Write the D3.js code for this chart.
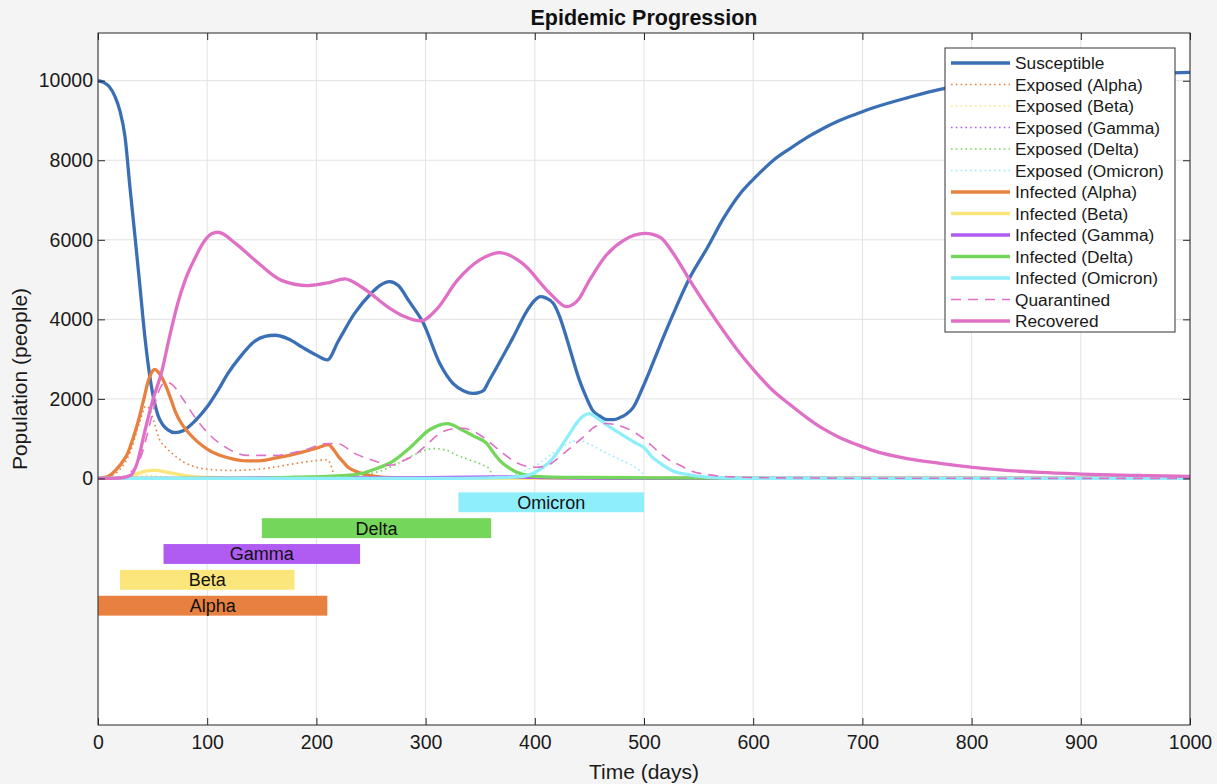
<!DOCTYPE html>
<html>
<head>
<meta charset="utf-8">
<script src="https://cdn.jsdelivr.net/npm/d3@7"></script>
<style>
  html, body { margin: 0; padding: 0; background: #f4f4f4; }
  svg { display: block; font-family: "Liberation Sans", Arial, Helvetica, sans-serif; }
</style>
</head>
<body>
<div id="chart"></div>
<script>
// ---- data (day, people) ----
var susceptible = [[0,10000],[5,9960],[10,9860],[15.6,9600],[20,9250],[24.7,8600],[29.3,7310],[34,6050],[38.5,4800],[43,3540],[47.6,2540],[52,1880],[55,1580],[58.6,1380],[64,1220],[70.5,1150],[78,1200],[89,1450],[100,1800],[110,2220],[119,2640],[130,3050],[144,3460],[153,3570],[162,3600],[175,3500],[187,3300],[200,3100],[210,2980],[220,3450],[235,4150],[250,4650],[258,4850],[267,4950],[275,4850],[285,4450],[298,3900],[313,2890],[325,2390],[335,2200],[343,2140],[349,2160],[353,2210],[358,2450],[365,2790],[380,3540],[393,4220],[400,4480],[405,4570],[410,4540],[417,4400],[423,4050],[429,3540],[441,2460],[447,2050],[453,1710],[460,1560],[466,1480],[472,1480],[478,1530],[484,1620],[490,1780],[499,2300],[508,2890],[517,3500],[527,4150],[542,5050],[558,5800],[573,6550],[588,7160],[603,7600],[618,7990],[634,8300],[649,8570],[664,8800],[679,9000],[695,9170],[710,9320],[741,9570],[771,9780],[800,9900],[850,10030],[900,10110],[950,10170],[1000,10210]];

var exposedAlpha = [[0,0],[10,50],[20,220],[30,700],[38,1400],[44,1820],[48,1700],[52,1350],[56,1000],[62,780],[68,630],[78,420],[90,280],[105,220],[120,200],[150,240],[180,370],[200,450],[210,470],[213,350],[216,100],[220,0],[1000,0]];
var exposedBeta = [[0,0],[20,0],[28,30],[38,70],[45,80],[52,60],[65,30],[80,10],[100,0],[1000,0]];
var exposedGamma = [[0,0],[60,0],[150,5],[250,5],[340,10],[400,5],[480,0],[1000,0]];
var exposedDelta = [[0,0],[150,0],[200,20],[240,80],[260,200],[275,380],[290,600],[307,750],[318,720],[329,580],[342,450],[353,330],[358,250],[361,100],[364,20],[380,0],[1000,0]];
var exposedOmicron = [[0,0],[330,0],[370,40],[390,180],[405,400],[420,700],[432,900],[440,960],[450,860],[466,630],[480,450],[493,260],[498,150],[501,0],[1000,0]];

var infectedAlpha = [[0,0],[5,20],[10,60],[16,200],[22,400],[27.5,650],[32,1000],[37,1450],[42,2000],[46,2450],[50,2700],[52,2740],[55,2680],[61,2400],[66,2050],[70.5,1700],[76,1400],[82,1180],[90,950],[101,720],[119,520],[137,440],[150,450],[162,510],[175,580],[187,660],[200,760],[211,850],[215,750],[220,560],[225,400],[229,280],[236,180],[242,120],[250,70],[260,30],[280,10],[300,0],[1000,0]];
var infectedBeta = [[0,0],[20,0],[25,20],[32,80],[40,160],[48,200],[54,200],[60,170],[70,120],[80,70],[90,40],[100,25],[120,10],[180,0],[1000,0]];
var infectedGamma = [[0,0],[60,0],[100,5],[150,15],[200,20],[250,15],[300,20],[340,35],[370,40],[400,25],[440,8],[480,0],[1000,0]];
var infectedDelta = [[0,0],[150,0],[180,30],[210,50],[230,80],[242,130],[255,250],[267,380],[286,780],[304,1230],[320,1380],[334,1210],[345,1050],[356,880],[362,650],[368,450],[376,270],[384,150],[395,70],[410,40],[450,25],[500,15],[600,5],[700,0],[1000,0]];
var infectedOmicron = [[0,0],[330,0],[370,20],[389,50],[400,150],[407,270],[414,430],[420,630],[426,880],[432,1130],[438,1380],[444,1560],[450,1630],[458,1500],[469,1290],[481,1080],[493,880],[500,780],[507,550],[515,380],[527,180],[542,90],[560,30],[600,5],[700,0],[1000,0]];

var quarantined = [[0,0],[20,30],[30,150],[40,600],[45,1100],[50,1650],[55,2150],[62,2420],[68,2360],[77,2030],[89,1530],[101,1130],[119,750],[137,580],[162,580],[187,700],[211,880],[220,870],[235,630],[250,470],[260,380],[267,330],[280,450],[292,630],[303,900],[313,1130],[325,1250],[334,1260],[345,1170],[353,1030],[362,830],[371,630],[380,450],[389,330],[400,280],[410,310],[426,620],[444,1030],[455,1300],[466,1380],[475,1340],[485,1250],[493,1130],[502,950],[512,700],[522,480],[533,330],[542,200],[560,90],[580,40],[620,15],[700,5],[1000,0]];
var recovered = [[0,0],[20,10],[30,80],[36,400],[43,1200],[50,1950],[58.6,2710],[65,3500],[73,4400],[80,5000],[89,5550],[97,5950],[104,6150],[110,6190],[125,5930],[144,5480],[168,4980],[192,4850],[211,4920],[226,5020],[242,4800],[266,4300],[280,4080],[296,3960],[310,4250],[329,4980],[350,5500],[368,5680],[389,5400],[414,4650],[429,4320],[440,4500],[450,4980],[465,5600],[481,5980],[501,6160],[515,6060],[527,5650],[542,4980],[558,4300],[573,3700],[588,3140],[603,2650],[618,2210],[634,1850],[649,1530],[664,1250],[679,1030],[695,850],[710,700],[741,500],[771,380],[801,280],[863,150],[900,110],[950,75],[1000,50]];

// variant activity windows (days) and their row position (people)
var variantNames = ['Alpha', 'Beta', 'Gamma', 'Delta', 'Omicron'];
var variantStart = [0, 20, 60, 150, 330];
var variantEnd = [210, 180, 240, 360, 500];
var variantRow = [-3200, -2550, -1900, -1250, -600];

var xTicks = [0, 100, 200, 300, 400, 500, 600, 700, 800, 900, 1000];
var yTicks = [0, 2000, 4000, 6000, 8000, 10000];

// ---- layout ----
var width = 1217, height = 784;
var padL = 98, padR = 1190, padT = 33, padB = 725;

var colors = {
  blue: '#3a6fb6', orange: '#e8803f', yellow: '#fbe67c', purple: '#b05cf2',
  green: '#74d65a', cyan: '#8eeffb', pink: '#e070c6'
};
var variantColors = [colors.orange, colors.yellow, colors.purple, colors.green, colors.cyan];

var series = [
  { name: 'Susceptible', data: susceptible, color: colors.blue, w: 3.3, dash: null },
  { name: 'Exposed (Alpha)', data: exposedAlpha, color: colors.orange, w: 1.6, dash: '1.6,3.2' },
  { name: 'Exposed (Beta)', data: exposedBeta, color: colors.yellow, w: 1.6, dash: '1.6,3.2' },
  { name: 'Exposed (Gamma)', data: exposedGamma, color: colors.purple, w: 1.6, dash: '1.6,3.2' },
  { name: 'Exposed (Delta)', data: exposedDelta, color: colors.green, w: 1.6, dash: '1.6,3.2' },
  { name: 'Exposed (Omicron)', data: exposedOmicron, color: colors.cyan, w: 1.6, dash: '1.6,3.2' },
  { name: 'Infected (Alpha)', data: infectedAlpha, color: colors.orange, w: 3.3, dash: null },
  { name: 'Infected (Beta)', data: infectedBeta, color: colors.yellow, w: 3.3, dash: null },
  { name: 'Infected (Gamma)', data: infectedGamma, color: colors.purple, w: 3.3, dash: null },
  { name: 'Infected (Delta)', data: infectedDelta, color: colors.green, w: 3.3, dash: null },
  { name: 'Infected (Omicron)', data: infectedOmicron, color: colors.cyan, w: 3.3, dash: null },
  { name: 'Quarantined', data: quarantined, color: colors.pink, w: 1.6, dash: '10,7' },
  { name: 'Recovered', data: recovered, color: colors.pink, w: 3.3, dash: null }
];

var svg = d3.select('#chart').append('svg')
  .attr('width', width)
  .attr('height', height);

var x = d3.scaleLinear().domain([0, 1000]).range([padL, padR]);
var y = d3.scaleLinear().domain([-6200, 11200]).range([padB, padT]);

// axes background
svg.append('rect')
  .attr('x', padL).attr('y', padT)
  .attr('width', padR - padL).attr('height', padB - padT)
  .attr('fill', '#ffffff');

// grid
var grid = svg.append('g').attr('stroke', '#e2e2e2').attr('stroke-width', 1);
grid.selectAll('.gx').data(xTicks).enter().append('line')
  .attr('x1', function (d) { return x(d); }).attr('x2', function (d) { return x(d); })
  .attr('y1', padT).attr('y2', padB);
grid.selectAll('.gy').data(yTicks).enter().append('line')
  .attr('x1', padL).attr('x2', padR)
  .attr('y1', function (d) { return y(d); }).attr('y2', function (d) { return y(d); });

// variant bars
var bars = svg.append('g');
variantNames.forEach(function (name, i) {
  bars.append('rect')
    .attr('x', x(variantStart[i]))
    .attr('width', x(variantEnd[i]) - x(variantStart[i]))
    .attr('y', y(variantRow[i] + 250))
    .attr('height', y(variantRow[i] - 250) - y(variantRow[i] + 250))
    .attr('fill', variantColors[i]);
  bars.append('text')
    .attr('x', x((variantStart[i] + variantEnd[i]) / 2))
    .attr('y', y(variantRow[i]))
    .attr('dy', '0.36em')
    .attr('text-anchor', 'middle')
    .attr('font-size', 18)
    .attr('fill', '#111')
    .text(name);
});

// curves
svg.append('clipPath').attr('id', 'plotclip')
  .append('rect').attr('x', padL).attr('y', padT)
  .attr('width', padR - padL).attr('height', padB - padT);

var line = d3.line()
  .x(function (d) { return x(d[0]); })
  .y(function (d) { return y(d[1]); })
  .curve(d3.curveMonotoneX);

svg.append('g').attr('clip-path', 'url(#plotclip)')
  .selectAll('path').data(series).enter().append('path')
  .attr('d', function (d) { return line(d.data); })
  .attr('fill', 'none')
  .attr('stroke', function (d) { return d.color; })
  .attr('stroke-width', function (d) { return d.w; })
  .attr('stroke-dasharray', function (d) { return d.dash; })
  .attr('stroke-linejoin', 'round');

// axes (ticks point inward, like MATLAB)
var axisColor = '#262626';
function styleAxis(g) {
  g.attr('font-family', null).attr('font-size', null);
  g.select('.domain').remove();
  g.selectAll('line').attr('stroke', axisColor);
  g.selectAll('text').attr('fill', '#1a1a1a').attr('font-size', 19.5);
}

svg.append('g')
  .attr('transform', 'translate(0,' + padB + ')')
  .call(d3.axisBottom(x).tickValues(xTicks).tickSize(-7).tickPadding(10).tickFormat(d3.format('d')))
  .call(styleAxis);
svg.append('g')
  .attr('transform', 'translate(0,' + padT + ')')
  .call(d3.axisTop(x).tickValues(xTicks).tickSize(-7).tickFormat(''))
  .call(styleAxis);
svg.append('g')
  .attr('transform', 'translate(' + padL + ',0)')
  .call(d3.axisLeft(y).tickValues(yTicks).tickSize(-7).tickPadding(5).tickFormat(d3.format('d')))
  .call(styleAxis);
svg.append('g')
  .attr('transform', 'translate(' + padR + ',0)')
  .call(d3.axisRight(y).tickValues(yTicks).tickSize(-7).tickFormat(''))
  .call(styleAxis);

svg.append('rect')
  .attr('x', padL).attr('y', padT)
  .attr('width', padR - padL).attr('height', padB - padT)
  .attr('fill', 'none').attr('stroke', axisColor).attr('stroke-width', 1);

// titles
svg.append('text')
  .attr('x', (padL + padR) / 2).attr('y', 25)
  .attr('text-anchor', 'middle')
  .attr('font-size', 21.5).attr('font-weight', 'bold').attr('fill', '#111')
  .text('Epidemic Progression');
svg.append('text')
  .attr('x', (padL + padR) / 2).attr('y', 779)
  .attr('text-anchor', 'middle')
  .attr('font-size', 21).attr('fill', '#1a1a1a')
  .text('Time (days)');
svg.append('text')
  .attr('transform', 'translate(27,' + (padT + padB) / 2 + ') rotate(-90)')
  .attr('text-anchor', 'middle')
  .attr('font-size', 21).attr('fill', '#1a1a1a')
  .text('Population (people)');

// legend
var lgX = 945, lgY = 48, lgW = 230, lgH = 284, rowH = 21.5;
var legend = svg.append('g');
legend.append('rect')
  .attr('x', lgX).attr('y', lgY).attr('width', lgW).attr('height', lgH)
  .attr('fill', '#ffffff').attr('stroke', '#333').attr('stroke-width', 1);
var items = legend.selectAll('.item').data(series).enter().append('g')
  .attr('transform', function (d, i) { return 'translate(' + lgX + ',' + (lgY + 15 + i * rowH) + ')'; });
items.append('line')
  .attr('x1', 6).attr('x2', 65).attr('y1', 0).attr('y2', 0)
  .attr('stroke', function (d) { return d.color; })
  .attr('stroke-width', function (d) { return d.w; })
  .attr('stroke-dasharray', function (d) { return d.dash; });
items.append('text')
  .attr('x', 70).attr('y', 0).attr('dy', '0.36em')
  .attr('font-size', 17.3).attr('fill', '#1a1a1a')
  .text(function (d) { return d.name; });
</script>
</body>
</html>
